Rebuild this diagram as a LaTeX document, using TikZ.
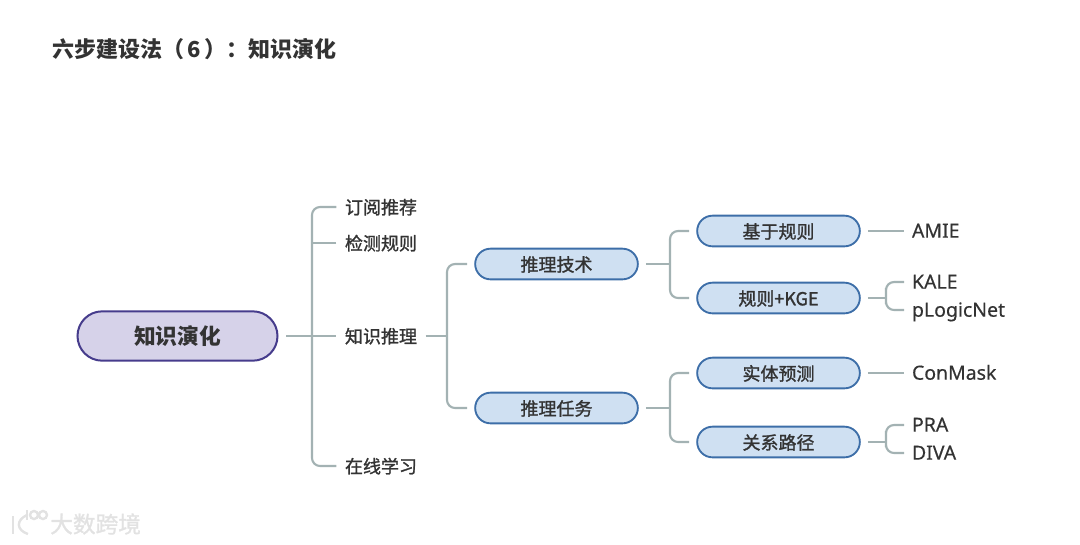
\documentclass[tikz,border=0pt]{standalone}
\usepackage{fontspec}
\setmainfont{Noto Sans}
\newfontfamily\cjk{Noto Sans CJK SC}
\newfontfamily\cjkm[FakeBold=1.3]{Noto Sans CJK SC}
\newfontfamily\latm[FakeBold=0.4]{Noto Sans}
\usetikzlibrary{shapes.misc}
\definecolor{linkc}{HTML}{A3B2B3}
\definecolor{inkc}{HTML}{333333}
\definecolor{rootf}{HTML}{D6D2E9}
\definecolor{rootd}{HTML}{463C8C}
\definecolor{pillf}{HTML}{CFE0F2}
\definecolor{pilld}{HTML}{3D6EA8}
\definecolor{markc}{HTML}{E2E2E2}
\tikzset{
  link/.style={draw=linkc,line width=1.6pt,rounded corners=6pt},
  rootpill/.style={rounded rectangle,draw=rootd,fill=rootf,line width=1.5pt,minimum width=150pt,minimum height=37pt,inner sep=0pt,outer sep=6.5pt,text=inkc,text height=13.2pt,text depth=0pt,font=\cjk\bfseries\fontsize{16.3}{18}\selectfont},
  pill/.style={rounded rectangle,draw=pilld,fill=pillf,line width=1.4pt,minimum width=122pt,minimum height=23pt,inner sep=0pt,outer sep=6pt,text=inkc,text height=11pt,text depth=0pt,font=\cjkm\fontsize{13.5}{15}\selectfont},
  cn/.style={inner sep=0pt,outer xsep=6.5pt,outer ysep=0pt,text=inkc,text height=10.6pt,text depth=0pt,font=\cjkm\fontsize{13.5}{15}\selectfont},
  leaf/.style={inner sep=0pt,outer xsep=6pt,outer ysep=0pt,anchor=west,text=inkc,text height=10pt,text depth=0pt,font=\latm\fontsize{14.6}{16}\selectfont},
  titletext/.style={inner sep=0pt,anchor=west,text=inkc,font=\cjk\bfseries\fontsize{16.5}{18}\selectfont},
  marktext/.style={inner sep=0pt,anchor=west,text=markc,font=\cjkm\fontsize{17}{19}\selectfont},
  markline/.style={draw=markc,line width=1.8pt}
}
\begin{document}
\begin{tikzpicture}[x=0.75pt,y=-0.75pt]
\useasboundingbox (0,0) rectangle (1080,544);
\node[titletext] (title) at (52,49) {六步建设法（\hspace{2.5pt}6\hspace{2.5pt}）：知识演化};

\node[rootpill] (root) at (177.5,336) {知识演化};
\node[cn] (dingyue) at (381,207) {订阅推荐};
\node[cn] (jiance) at (381,243) {检测规则};
\node[cn] (tuili) at (381,336) {知识推理};
\node[cn] (zaixian) at (381,466) {在线学习};

\node[pill] (jishu) at (556.5,264) {推理技术};
\node[pill] (renwu) at (556.5,408) {推理任务};
\node[pill] (guize) at (778.5,231) {基于规则};
\node[pill] (kge) at (778.5,298) {规则+KGE};
\node[pill] (shiti) at (778.5,373) {实体预测};
\node[pill] (lujing) at (778.5,442) {关系路径};

\node[leaf] (amie) at (904,231) {AMIE};
\node[leaf] (kale) at (904,282) {KALE};
\node[leaf] (plogic) at (904,310) {pLogicNet};
\node[leaf] (conmask) at (904,373) {ConMask};
\node[leaf] (pra) at (904,425) {PRA};
\node[leaf] (diva) at (904,453) {DIVA};

\coordinate (t1) at (312,336);
\coordinate (t2) at (447,336);
\coordinate (t3) at (670,264);
\coordinate (t4) at (670,408);
\coordinate (t5) at (886,296);
\coordinate (t6) at (886,439);

\draw[link] (root.east) -- (tuili.west);
\draw[link] (dingyue.west) -| (t1) |- (zaixian.west);
\draw[link] (jiance.west) -- (t1 |- jiance.west);

\draw[link] (tuili.east) -- (t2);
\draw[link] (jishu.west) -| (t2) |- (renwu.west);

\draw[link] (jishu.east) -- (t3);
\draw[link] (guize.west) -| (t3) |- (kge.west);
\draw[link] (renwu.east) -- (t4);
\draw[link] (shiti.west) -| (t4) |- (lujing.west);

\draw[link] (guize.east) -- (amie.west);
\draw[link] (kge.east) -- (kge.east -| t5);
\draw[link] (kale.west) -| (t5) |- (plogic.west);
\draw[link] (shiti.east) -- (conmask.west);
\draw[link] (lujing.east) -- (lujing.east -| t6);
\draw[link] (pra.west) -| (t6) |- (diva.west);

\node[marktext] (mark) at (50,524) {大数跨境};
\draw[markline] (13,516) -- (13,534);
\draw[markline] (27,515) .. controls (16,520) and (16,530) .. (28,534);
\draw[markline] (27,510) -- (27,520);
\draw[markline] (34,515) circle (4) (43,515) circle (4);
\end{tikzpicture}
\end{document}
